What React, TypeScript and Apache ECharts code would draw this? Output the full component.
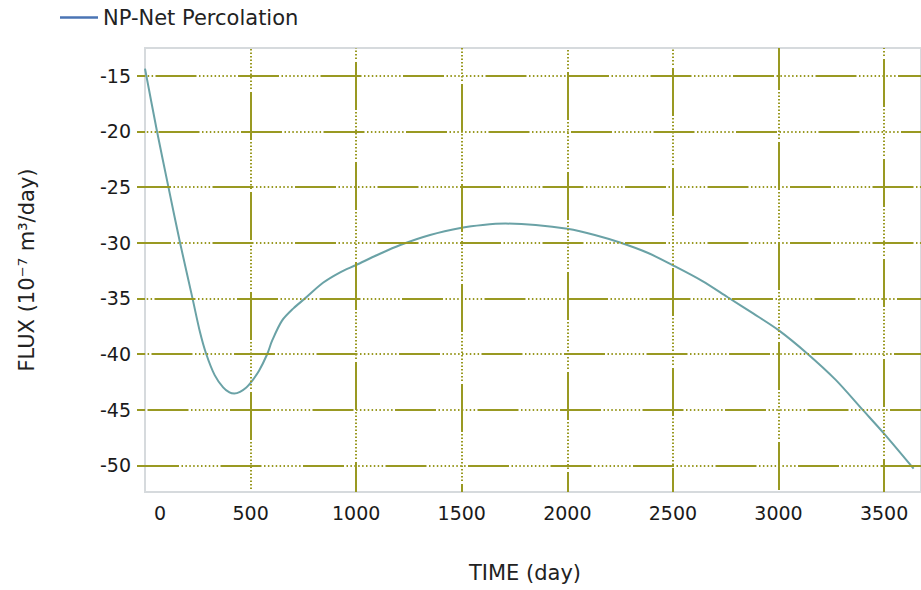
import React, { useEffect, useRef } from "react";
import * as echarts from "echarts";

// ---- data ----
const timeDays = [0, 57, 111, 166, 225, 260, 290, 330, 370, 400, 423, 450, 480, 500, 540, 579, 602, 649, 703, 758, 843, 920, 1000, 1100, 1209, 1350, 1500, 1600, 1708, 1850, 2000, 2130, 2253, 2380, 2500, 2640, 2760, 2880, 3000, 3133, 3270, 3398, 3500, 3640];
const fluxValues = [-14.35, -20, -25, -30, -35, -38, -40, -41.9, -43.0, -43.45, -43.55, -43.4, -43.0, -42.6, -41.5, -40, -38.8, -37.0, -35.9, -35.0, -33.6, -32.7, -32.0, -31.1, -30.2, -29.3, -28.65, -28.4, -28.28, -28.4, -28.75, -29.3, -30.0, -30.9, -32.03, -33.45, -34.9, -36.35, -37.85, -39.9, -42.3, -45.0, -47.15, -50.3];
const xTickValues = [0, 500, 1000, 1500, 2000, 2500, 3000, 3500];
const yTickValues = [-15, -20, -25, -30, -35, -40, -45, -50];
const seriesName = "NP-Net Percolation";
const xAxisName = "TIME (day)";
const yAxisName = "FLUX (10\u207B\u2077 m\u00B3/day)";

// ---- styles ----
const FONT = "DejaVu Sans";
const GRID_COLOR = "#999922";
const H_DASH = [41, 2.5, 1.5, 2.4, 1.5, 2.4, 1.5, 2.4, 1.5, 2.4, 1.5, 2.4, 1.5, 2.4, 1.5, 2.4, 1.5, 2.4, 1.5, 2.4, 1.5, 2.4];
const V_DASH = [48, 3, 1.5, 2, 1.5, 2, 1.5, 2, 1.5, 2, 1.5, 2, 1.5, 2, 1.5, 2, 1.5, 2, 1.5, 2, 1.5, 2, 1.5, 2, 1.5, 2, 1.5, 2, 1.5, 2];
const H_OFFSETS = [72, 69, 14.5, 14.5, 73, 76, 79.5, 6.5];
const V_OFFSETS = [48, 18, 40, 28, 24, 98, 15];

export default function App() {
  const ref = useRef<HTMLDivElement>(null);
  useEffect(() => {
    if (!ref.current) return;
    const chart = echarts.init(ref.current, null, { renderer: "svg" });
    const lineData = timeDays.map((t, i) => [t, fluxValues[i]]);
    const gridMarks: any[] = [];
    yTickValues.forEach((v, i) => {
      gridMarks.push({ yAxis: v, lineStyle: { type: H_DASH, dashOffset: H_OFFSETS[i] } });
    });
    xTickValues.slice(1).forEach((v, i) => {
      gridMarks.push({ xAxis: v, lineStyle: { type: V_DASH, dashOffset: V_OFFSETS[i] } });
    });
    chart.setOption({
      animation: false,
      backgroundColor: "#ffffff",
      textStyle: { fontFamily: FONT },
      grid: {
        left: 145,
        top: 48,
        right: -10,
        bottom: 98,
        show: true,
        borderColor: "#d6dadd",
        borderWidth: 2,
        backgroundColor: "transparent",
      },
      legend: {
        show: true,
        left: 60,
        top: 7,
        padding: 0,
        itemWidth: 38,
        itemHeight: 14,
        textStyle: { fontFamily: FONT, fontSize: 21, color: "#222" },
        data: [
          {
            name: seriesName,
            icon: "path://M0,6L40,6L40,8.5L0,8.5Z",
            itemStyle: { color: "#4a74b4" },
          },
        ],
      },
      xAxis: {
        type: "value",
        min: 0,
        max: 3675,
        interval: 500,
        name: xAxisName,
        nameLocation: "middle",
        nameGap: 70,
        nameTextStyle: { fontFamily: FONT, fontSize: 21, color: "#222", padding: [0, 16, 0, 0] },
        axisLine: { show: false },
        axisTick: { show: false },
        splitLine: { show: false },
        axisLabel: {
          customValues: xTickValues,
          fontFamily: FONT,
          fontSize: 19,
          color: "#1a1a1a",
          margin: 11,
          formatter: (v: number) => (v === 0 ? "{z|0}" : String(v)),
          rich: { z: { padding: [0, 0, 0, 30], fontFamily: FONT, fontSize: 19, color: "#1a1a1a" } },
        },
      },
      yAxis: {
        type: "value",
        min: -52.4,
        max: -12.5,
        name: yAxisName,
        nameLocation: "middle",
        nameGap: 108,
        nameTextStyle: { fontFamily: FONT, fontSize: 21, color: "#222" },
        axisLine: { show: false },
        axisTick: {
          show: true,
          customValues: yTickValues,
          length: 8,
          lineStyle: { color: GRID_COLOR, width: 2 },
        },
        splitLine: { show: false },
        axisLabel: {
          customValues: yTickValues,
          fontFamily: FONT,
          fontSize: 19,
          color: "#1a1a1a",
          margin: 14,
        },
      },
      series: [
        {
          name: "grid",
          type: "line",
          data: [],
          z: 1,
          silent: true,
          markLine: {
            silent: true,
            symbol: ["none", "none"],
            label: { show: false },
            emphasis: { disabled: true },
            lineStyle: { color: GRID_COLOR, width: 2, type: H_DASH },
            data: gridMarks,
          },
        },
        {
          name: seriesName,
          type: "line",
          data: lineData,
          z: 3,
          smooth: 0.3,
          showSymbol: false,
          symbol: "none",
          lineStyle: { color: "#6aa2a6", width: 2 },
          itemStyle: { color: "#6aa2a6" },
        },
      ],
    });
    return () => chart.dispose();
  }, []);
  return <div ref={ref} style={{ width: 921, height: 590, position: "absolute", left: 0, top: 0 }} />;
}
